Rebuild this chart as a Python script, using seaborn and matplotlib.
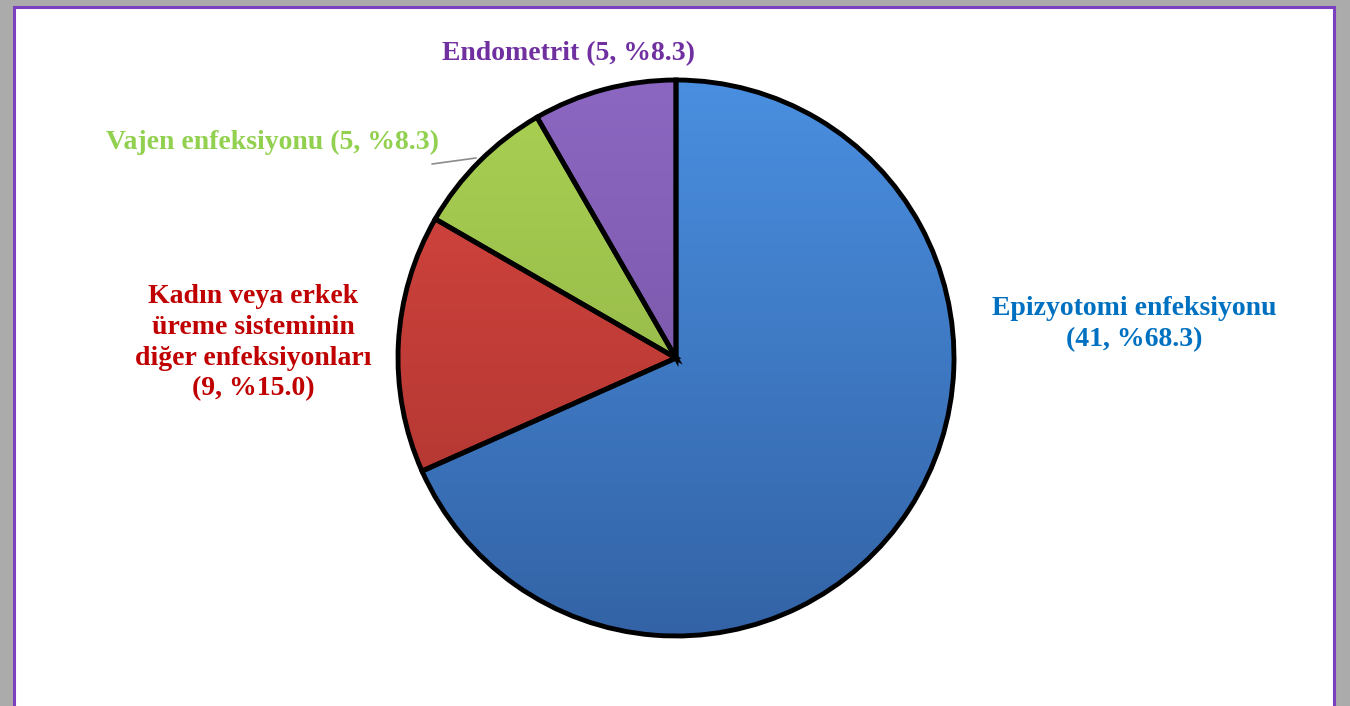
import numpy as np
import seaborn as sns
import matplotlib.pyplot as plt
from matplotlib.patches import Rectangle
from matplotlib.colors import LinearSegmentedColormap

categories = ['Epizyotomi enfeksiyonu', 'Kadın veya erkek\nüreme sisteminin\ndiğer enfeksiyonları',
              'Vajen enfeksiyonu', 'Endometrit']
counts = [41, 9, 5, 5]
percents = [68.3, 15.0, 8.3, 8.3]
slice_top = ['#4a8fe0', '#d9463f', '#a9d152', '#8c67c2']
slice_bottom = ['#3363a6', '#a8332f', '#8cab45', '#6f4f99']
text_colors = ['#0070c0', '#c00000', '#92d050', '#7030a0']

sns.set_theme(style='white')
plt.rcParams['font.family'] = ['Liberation Serif', 'DejaVu Serif']

fig = plt.figure(figsize=(13.5, 7.06), dpi=100)
fig.patch.set_facecolor('#ababab')

# white panel with purple frame (bottom edge runs off the image)
fig.patches.append(Rectangle((14 / 1350, -0.05), 1320 / 1350, 1.05 - 7 / 706,
                             transform=fig.transFigure, facecolor='white',
                             edgecolor='#7b3fbf', linewidth=2.2, zorder=-5))

ax = fig.add_axes([(676 - 278) / 1350, (348 - 278) / 706, 556 / 1350, 556 / 706])
ax.set_zorder(2)
ax.set_facecolor('none')
wedges, _ = ax.pie(counts, startangle=90, counterclock=False, radius=1,
                   wedgeprops=dict(edgecolor='black', linewidth=3.5))
ax.set_xlim(-1, 1)
ax.set_ylim(-1, 1)
ax.set_aspect('equal')
ax.axis('off')

# vertical gradient fill inside each slice
grad = np.linspace(0, 1, 256).reshape(-1, 1)
for w, top, bot in zip(wedges, slice_top, slice_bottom):
    cmap = LinearSegmentedColormap.from_list('g', [bot, top])
    im = ax.imshow(grad, cmap=cmap, extent=[-1, 1, -1, 1], origin='lower',
                   aspect='auto', zorder=1)
    im.set_clip_path(w)
    w.set_facecolor('none')
    w.set_zorder(2)
    w.set_clip_on(False)

labels = [f'{c}\n({n}, %{p:.1f})' if i < 2 else f'{c} ({n}, %{p:.1f})'
          for i, (c, n, p) in enumerate(zip(categories, counts, percents))]
positions = [(1134, 324), (253, 343), (272, 142), (568, 54)]
for lab, (px, py), col in zip(labels, positions, text_colors):
    fig.text(px / 1350, 1 - py / 706, lab, ha='center', va='center',
             color=col, fontsize=20, fontweight='bold', linespacing=1.3, zorder=3)

# leader line for the green slice
fig.add_artist(plt.Line2D([432 / 1350, 476 / 1350], [1 - 164 / 706, 1 - 158 / 706],
                          transform=fig.transFigure, color='#8c8c8c', linewidth=1.2))

fig.savefig('out.png', dpi=100, facecolor=fig.get_facecolor())
